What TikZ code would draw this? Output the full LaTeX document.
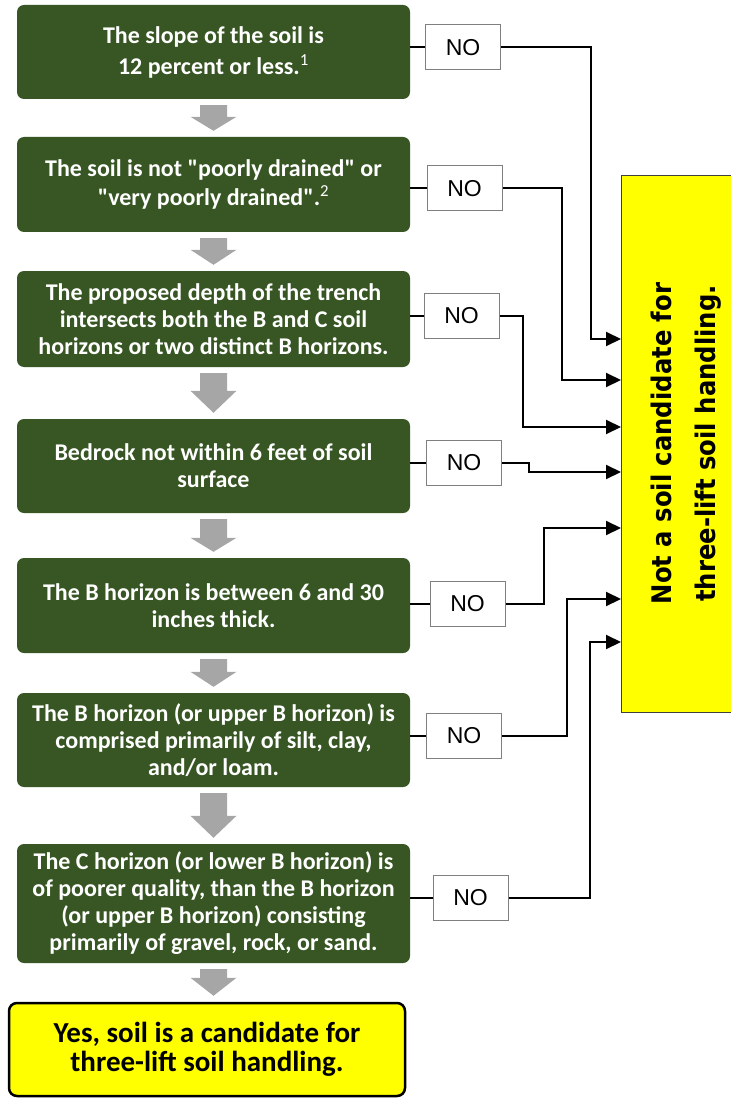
\documentclass[tikz,border=0pt]{standalone}
\usepackage{fontspec}
\setmainfont{Carlito}[Ligatures=TeXOff]
\newfontfamily\nofont{Liberation Sans}
\newfontfamily\vfont{DejaVu Sans Condensed}
\usetikzlibrary{arrows.meta,calc}
\definecolor{boxgreen}{HTML}{375623}
\definecolor{arrgray}{HTML}{A6A6A6}
\definecolor{ylw}{HTML}{FFFF00}
\newcommand\grayarr[3]{%
  \fill[garrow] let \p1=(#1.south), \p2=(#2.north) in
    (\x1-13.5pt,\y1-6pt) -- (\x1+13.5pt,\y1-6pt) -- (\x1+13.5pt,\y2+6pt+#3)
    -- (\x1+23pt,\y2+6pt+#3) -- (\x1,\y2+6pt) -- (\x1-23pt,\y2+6pt+#3)
    -- (\x1-13.5pt,\y2+6pt+#3) -- cycle;}
\begin{document}
\begin{tikzpicture}[x=1pt,y=-1pt,
  gbox/.style={fill=boxgreen, rounded corners=7pt, text=white,
    font=\fontsize{24}{27}\selectfont\bfseries, align=center,
    minimum width=393pt, inner sep=0pt},
  nobox/.style={draw=black!50, line width=1pt, fill=white,
    minimum width=75pt, minimum height=45pt, inner sep=0pt,
    font=\nofont\fontsize{23}{26}\selectfont},
  conn/.style={line width=2pt, -{Triangle[length=15pt,width=14pt]}},
  tie/.style={line width=2pt},
  garrow/.style={fill=arrgray}]
\useasboundingbox (0,0) rectangle (730,1099);

% green condition boxes
\node[gbox, minimum height=94pt, font=\fontsize{24}{31}\selectfont\bfseries] (b1) at (213.5,52)
  {The slope of the soil is\\12 percent or less.\textsuperscript{\mdseries 1}};
\node[gbox, minimum height=95pt, font=\fontsize{24}{28.5}\selectfont\bfseries] (b2) at (213.5,184.5)
  {The soil is not "poorly drained" or\\"very poorly drained".\textsuperscript{\mdseries 2}};
\node[gbox, minimum height=96pt] (b3) at (213.5,319)
  {The proposed depth of the trench\\intersects both the B and C soil\\horizons or two distinct B horizons.};
\node[gbox, minimum height=94pt] (b4) at (213.5,466)
  {Bedrock not within 6 feet of soil\\surface};
\node[gbox, minimum height=95pt] (b5) at (213.5,605.5)
  {The B horizon is between 6 and 30\\inches thick.};
\node[gbox, minimum height=94pt] (b6) at (213.5,740)
  {The B horizon (or upper B horizon) is\\comprised primarily of silt, clay,\\and/or loam.};
\node[gbox, minimum height=119pt] (b7) at (213.5,903.5)
  {The C horizon (or lower B horizon) is\\of poorer quality, than the B horizon\\(or upper B horizon) consisting\\primarily of gravel, rock, or sand.};
\node[draw=black, line width=2.5pt, fill=ylw, rounded corners=8pt,
  minimum width=396pt, minimum height=93pt, inner sep=0pt, align=center,
  font=\fontsize{29}{29}\selectfont\bfseries] (yes) at (207,1049.5)
  {Yes, soil is a candidate for\\three-lift soil handling.};

% gray down arrows
\grayarr{b1}{b2}{14pt}
\grayarr{b2}{b3}{15pt}
\grayarr{b3}{b4}{22pt}
\grayarr{b4}{b5}{14pt}
\grayarr{b5}{b6}{15pt}
\grayarr{b6}{b7}{22pt}
\grayarr{b7}{yes}{18pt}

% result box
\node[draw=black!75, line width=0.8pt, fill=ylw, minimum width=130pt,
  minimum height=537pt, inner sep=0pt] (ny) at (686,443.5) {};
\node[rotate=90, align=center, inner sep=0pt,
  font=\vfont\bfseries\fontsize{27}{44}\selectfont] (nyt) at (ny.center)
  {Not a soil candidate for\\three-lift soil handling.};

% NO boxes
\node[nobox] (n1) at (463,47.5) {\raisebox{-2pt}{NO}};
\node[nobox] (n2) at (464.5,188.5) {\raisebox{-2pt}{NO}};
\node[nobox] (n3) at (461.5,316) {\raisebox{-2pt}{NO}};
\node[nobox] (n4) at (464,463) {\raisebox{-2pt}{NO}};
\node[nobox] (n5) at (467.5,604) {\raisebox{-2pt}{NO}};
\node[nobox] (n6) at (464,736) {\raisebox{-2pt}{NO}};
\node[nobox] (n7) at (470.5,898) {\raisebox{-2pt}{NO}};

\foreach \i in {1,...,7} {\draw[tie] (b\i.east |- n\i.west) -- (n\i.west);}

% entry points on the result box
\coordinate (t1) at (621,339);
\coordinate (t2) at (621,380);
\coordinate (t3) at (621,427);
\coordinate (t4) at (621,472);
\coordinate (t5) at (621,528);
\coordinate (t6) at (621,599);
\coordinate (t7) at (621,642);

\draw[conn] (n1.east) -| ([xshift=-30pt]t1) -- (t1);
\draw[conn] (n2.east) -| ([xshift=-59pt]t2) -- (t2);
\draw[conn] (n3.east) -| ([xshift=-98pt]t3) -- (t3);
\draw[conn] (n4.east) -| ([xshift=-92pt]t4) -- (t4);
\draw[conn] (n5.east) -| ([xshift=-77pt]t5) -- (t5);
\draw[conn] (n6.east) -| ([xshift=-54pt]t6) -- (t6);
\draw[conn] (n7.east) -| ([xshift=-31pt]t7) -- (t7);
\end{tikzpicture}
\end{document}
